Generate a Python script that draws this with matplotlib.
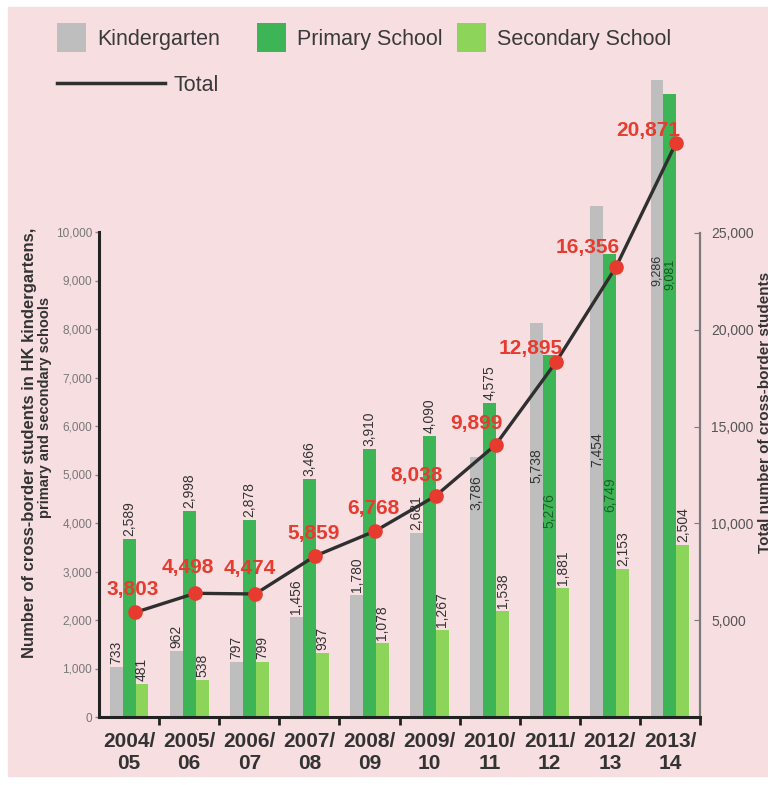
import numpy as np
import matplotlib
matplotlib.use('Agg')
import matplotlib.pyplot as plt
from matplotlib import font_manager
from matplotlib.patches import Rectangle, Patch
from matplotlib.lines import Line2D

years = ['2004/\n05', '2005/\n06', '2006/\n07', '2007/\n08', '2008/\n09',
         '2009/\n10', '2010/\n11', '2011/\n12', '2012/\n13', '2013/\n14']
kindergarten = [733, 962, 797, 1456, 1780, 2681, 3786, 5738, 7454, 9286]
primary = [2589, 2998, 2878, 3466, 3910, 4090, 4575, 5276, 6749, 9081]
secondary = [481, 538, 799, 937, 1078, 1267, 1538, 1881, 2153, 2504]
total = [3803, 4498, 4474, 5859, 6768, 8038, 9899, 12895, 16356, 20871]

series_names = ['Kindergarten', 'Primary School', 'Secondary School']

BG = '#F6DEE1'
COLORS = ['#BEBEBE', '#3DB556', '#8CD45A']
RED = '#E63B2E'
DARK = '#2f2f2f'

names = {f.name for f in font_manager.fontManager.ttflist}
NARROW = 'Liberation Sans Narrow' if 'Liberation Sans Narrow' in names else 'Liberation Sans'
plt.rcParams['font.family'] = ['Liberation Sans', 'DejaVu Sans']

W, H = 768, 785
fig = plt.figure(figsize=(W / 100, H / 100), dpi=100)
fig.patches.append(Rectangle((8 / W, 9 / H), 1, 1 - 16 / H, transform=fig.transFigure,
                             color=BG, zorder=-10))

# plot area: baseline at y=717px, left spine x=99, right spine x=700
top_px, base_px = 60, 717
area_h = base_px - top_px
rect = [99 / W, (H - base_px) / H, 601 / W, area_h / H]

x = np.arange(len(years))

# left axis (ticks only, 48.5 px per 1000)
ax = fig.add_axes(rect)
ax.set_facecolor('none')
ax.set_xlim(-0.5, 9.5)
ax.set_ylim(0, area_h / 48.5 * 1000)
for s in ['top', 'right']:
    ax.spines[s].set_visible(False)
ax.spines['left'].set_bounds(0, 10000)
ax.spines['left'].set_linewidth(2.2)
ax.spines['left'].set_color('#222222')
ax.spines['bottom'].set_linewidth(2.2)
ax.spines['bottom'].set_color('#222222')
ax.set_yticks(range(0, 10001, 1000))
ax.set_yticklabels([f'{v:,}' for v in range(0, 10001, 1000)], fontfamily=NARROW)
ax.tick_params(axis='y', length=3, width=1, color='#888888', labelsize=8.5,
               labelcolor='#777777', pad=2)
ax.set_xticks(x)
ax.set_xticklabels(years, fontsize=15, fontweight='bold', color='#333333', linespacing=1.2)
ax.tick_params(axis='x', length=0, pad=11)
ax.set_xticks(np.arange(0.5, 10, 1), minor=True)
ax.tick_params(axis='x', which='minor', length=6, width=2, color='#222222', direction='out')

# bars (68.6 px per 1000)
axb = ax.twinx()
axb.set_ylim(0, area_h / 68.6 * 1000)
axb.axis('off')

# total line (27.5 px per 1000)
axl = ax.twinx()
axl.set_ylim(0, area_h / 27.5 * 1000)
axl.axis('off')

# right axis (19.36 px per 1000)
axr = ax.twinx()
axr.set_ylim(0, area_h / 19.36 * 1000)
for s in ['top', 'left', 'bottom']:
    axr.spines[s].set_visible(False)
axr.spines['right'].set_bounds(0, 25000)
axr.spines['right'].set_color('#7a7a7a')
axr.spines['right'].set_linewidth(1.6)
axr.set_yticks(range(5000, 25001, 5000))
axr.set_yticklabels([f'{v:,}' for v in range(5000, 25001, 5000)])
axr.tick_params(axis='y', direction='in', length=4, color='#7a7a7a', labelsize=10,
                labelcolor='#555555', pad=8)

ax.set_zorder(1)

width = 0.215
offsets = [-width, 0, width]
data = [kindergarten, primary, secondary]

# value labels drawn inside the bars: (series, year) -> top of text, size, colour
inside = {
    (0, 6): (3528, 10, '#333333'),
    (0, 7): (3921, 10, '#333333'),
    (1, 7): (3265, 10, '#1f5f2b'),
    (0, 8): (4155, 10, '#333333'),
    (1, 8): (3499, 10, '#1f5f2b'),
    (0, 9): (6740, 9, '#333333'),
    (1, 9): (6680, 9, '#1f4f25'),
}

for k, vals in enumerate(data):
    xs = x + offsets[k]
    axb.bar(xs, vals, width=width, color=COLORS[k], linewidth=0, zorder=1)
    for i, v in enumerate(vals):
        if (k, i) in inside:
            ytop, fs, col = inside[(k, i)]
            axb.text(xs[i], ytop, f'{v:,}', rotation=90, ha='center', va='top',
                     fontsize=fs, color=col, fontfamily=NARROW, zorder=2)
        else:
            axb.annotate(f'{v:,}', (xs[i], v), xytext=(0, 3), textcoords='offset pixels',
                         rotation=90, ha='center', va='bottom', fontsize=10,
                         color='#333333', fontfamily=NARROW, zorder=2)

# total line with red markers
lx = x + 0.1
axl.plot(lx, total, color=DARK, lw=2.4, zorder=2)
axl.plot(lx, total, 'o', color=RED, ms=9.5, mec=RED, zorder=3)
label_shift = [(-2, 17), (-7, 20), (-6, 20), (-2, 17), (-2, 17),
               (-19, 15), (-19, 16), (-25, 8), (-28, 14), (-28, 7)]
for i, v in enumerate(total):
    dx, dy = label_shift[i]
    axl.annotate(f'{v:,}', (lx[i], v), xytext=(dx, dy), textcoords='offset pixels',
                 ha='center', va='baseline', fontsize=15, fontweight='bold',
                 color=RED, zorder=4)

# legend: one entry per column, columns 200 px apart
legend_kw = dict(loc='upper left', frameon=False, prop={'family': NARROW, 'size': 15.5},
                 labelcolor='#3a3a3a', borderpad=0, borderaxespad=0)
for k, name in enumerate(series_names):
    fig.legend([Patch(facecolor=COLORS[k], edgecolor='none')], [name],
               bbox_to_anchor=((57 + 200 * k) / W, 1 - 23 / H),
               handlelength=1.35, handleheight=1.7, handletextpad=0.5, **legend_kw)
fig.legend([Line2D([], [], color=DARK, lw=2.5)], ['Total'],
           bbox_to_anchor=(57 / W, 1 - 75 / H),
           handlelength=5.0, handletextpad=0.4, **legend_kw)

# axis titles
fig.text(30 / W, 1 - 443 / H, 'Number of cross-border students in HK kindergartens,',
         rotation=90, ha='center', va='center', fontsize=12, fontweight='bold', color='#333333')
fig.text(45 / W, 1 - 407 / H, 'primary and secondary schools',
         rotation=90, ha='center', va='center', fontsize=10.5, fontweight='bold', color='#333333')
fig.text(765 / W, 1 - 412 / H, 'Total number of cross-border students',
         rotation=90, ha='center', va='center', fontsize=11, fontweight='bold', color='#333333')

fig.savefig('out.png', dpi=100, facecolor='white')
